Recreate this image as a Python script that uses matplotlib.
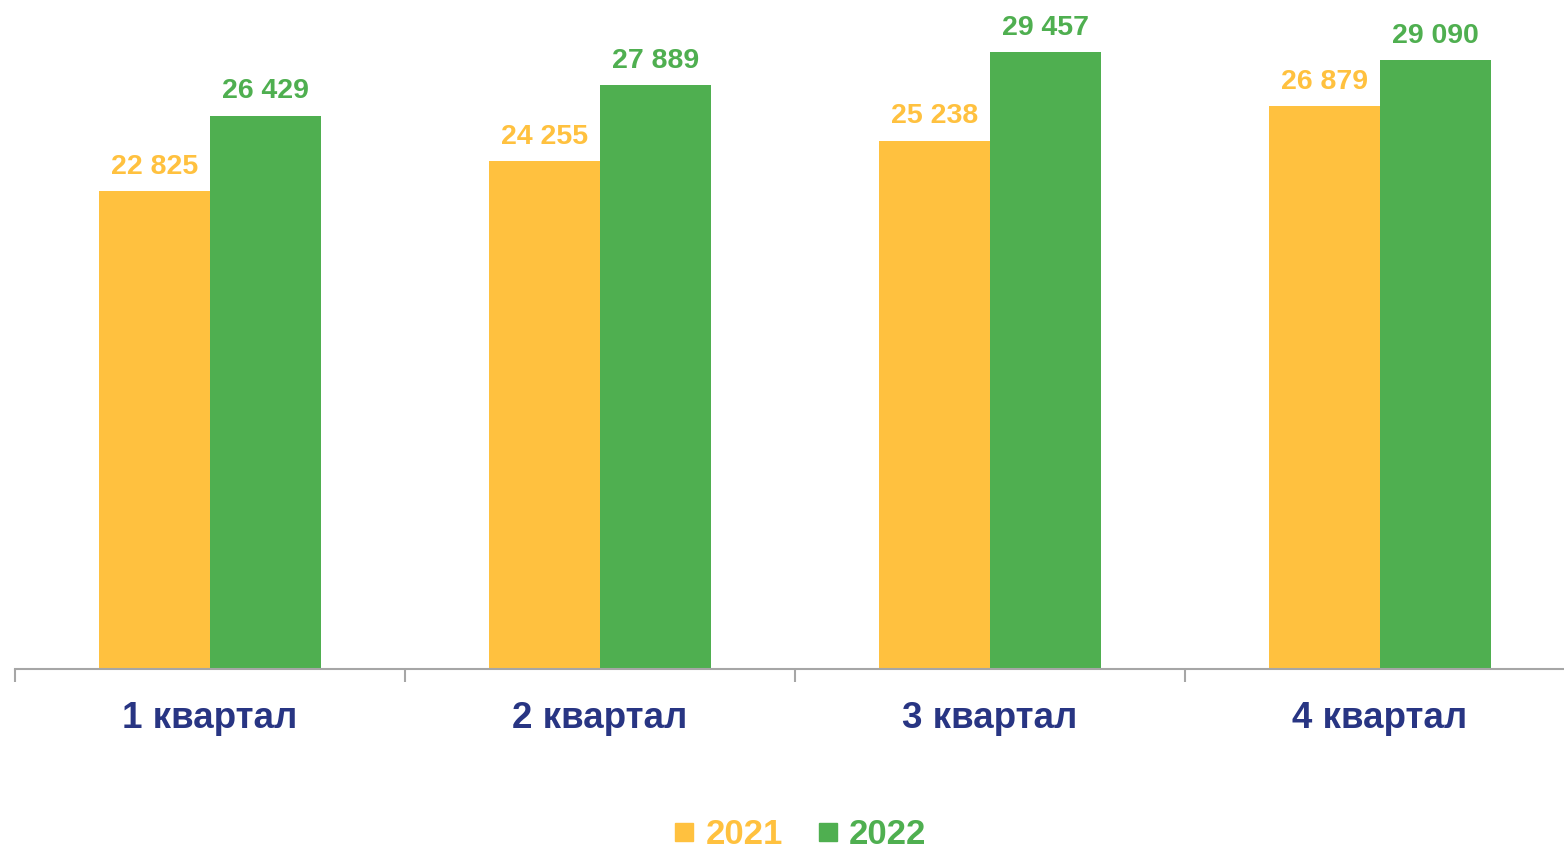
import matplotlib
matplotlib.use("Agg")
import matplotlib.pyplot as plt
from matplotlib.lines import Line2D
import numpy as np

plt.rcParams['font.family'] = ['Liberation Sans', 'DejaVu Sans']

categories = ["1 квартал", "2 квартал", "3 квартал", "4 квартал"]
series_names = ["2021", "2022"]
values_2021 = [22825, 24255, 25238, 26879]
values_2022 = [26429, 27889, 29457, 29090]

c2021 = "#FFC13F"
c2022 = "#4FAF50"
navy = "#283583"

W, H = 1564, 849
fig = plt.figure(figsize=(W/100, H/100), dpi=100)
ax = fig.add_axes([15/W, 180/H, 1560/W, 669/H])

x = np.arange(len(categories))
bw = 0.285
b1 = ax.bar(x - bw/2, values_2021, bw, color=c2021, zorder=2)
b2 = ax.bar(x + bw/2, values_2022, bw, color=c2022, zorder=2)

def fmt(v):
    return f"{v:,}".replace(",", " ")

for bars, vals, col in ((b1, values_2021, c2021), (b2, values_2022, c2022)):
    for r, v in zip(bars, vals):
        ax.annotate(fmt(v), (r.get_x() + r.get_width()/2, v), xytext=(0, 8),
                    textcoords="offset points", ha="center", va="bottom",
                    fontsize=20.5, fontweight="bold", color=col)

ax.set_xlim(-0.5, 3.5)
ax.set_ylim(0, 31950)
for s in ("top", "right", "left"):
    ax.spines[s].set_visible(False)
ax.spines["bottom"].set_color("#A6A6A6")
ax.spines["bottom"].set_linewidth(1.5)
ax.set_yticks([])
ax.set_xticks(x)
ax.set_xticklabels(categories, fontsize=26.5, fontweight="bold", color=navy)
ax.tick_params(axis="x", which="major", length=0, pad=23)
ax.set_xticks(np.arange(-0.5, 4.0, 1.0), minor=True)
ax.tick_params(axis="x", which="minor", length=9, width=1.5, color="#A6A6A6", direction="out")

handles = [Line2D([], [], linestyle="none", marker="s", markersize=13, color=c2021),
           Line2D([], [], linestyle="none", marker="s", markersize=13, color=c2022)]
leg = fig.legend(handles, series_names, loc="center", bbox_to_anchor=(800/W, 1 - 835/H),
                 ncol=2, frameon=False, handlelength=0.6, handletextpad=0.3,
                 columnspacing=1.0, prop={"size": 25, "weight": "bold"},
                 labelcolor=[c2021, c2022])

fig.savefig("out.png", dpi=100)
